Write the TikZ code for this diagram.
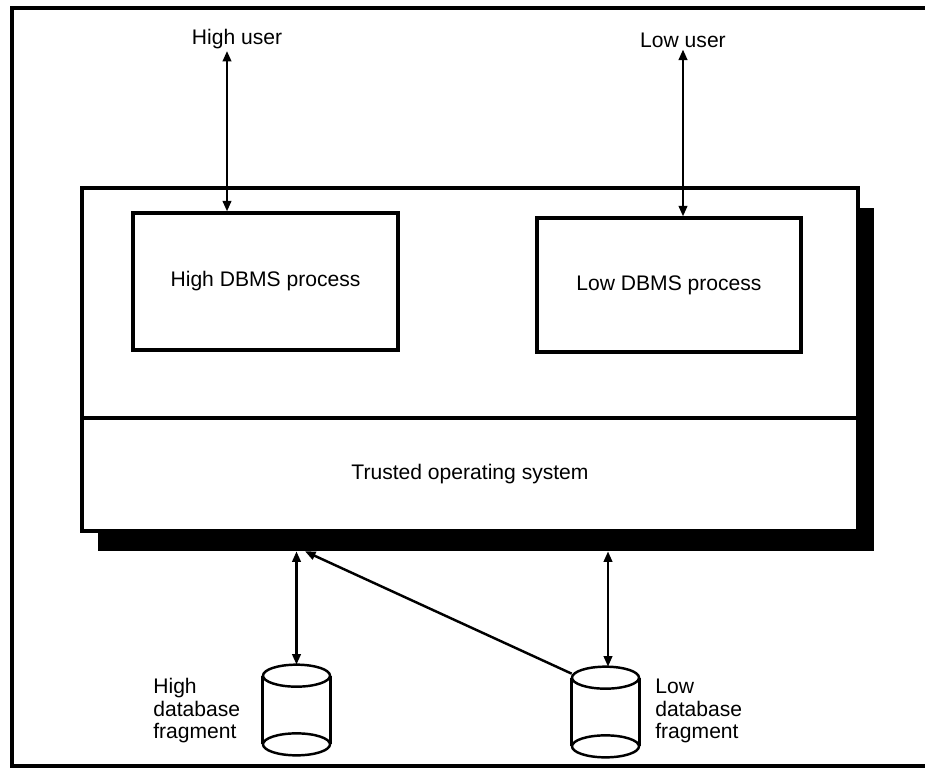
\documentclass[tikz,border=0pt]{standalone}
\usepackage{fontspec}
\setmainfont{Liberation Sans}
\usetikzlibrary{calc,positioning,arrows.meta}

\begin{document}
\begin{tikzpicture}[x=0.02cm, y=-0.02cm,
  every node/.style={font=\fontsize{12}{12.8}\selectfont},
  box/.style={draw, line width=1.8pt, fill=white, inner sep=0pt},
  biarrow/.style={{Triangle[length=6pt,width=4.8pt]}-{Triangle[length=6pt,width=4.8pt]}, line width=1.4pt},
  onearrow/.style={-{Triangle[length=6pt,width=4.8pt]}, line width=1.4pt},
  drum/.style={minimum width=1.34cm, minimum height=1.8cm, inner sep=0pt},
  cyl/.style={line width=1.4pt},
  dblabel/.style={anchor=west, align=left, inner sep=0pt}]
  \useasboundingbox (0,0) rectangle (925,768);
  % outer frame
  \draw[line width=1.9pt] (940,8) -- (12,8) -- (12,766) -- (940,766);

  % trusted system with its shadow
  \node[fill=black, minimum width=15.52cm, minimum height=6.86cm] (shadow) at (486,379.5) {};
  \node[box, minimum width=15.52cm, minimum height=4.6cm] (procs) at (470,303) {};
  \node[box, minimum width=15.52cm, minimum height=2.26cm] (tos) at (470,474.5) {Trusted operating system};

  \node[box, minimum width=5.3cm, minimum height=2.74cm] (hdbms) at (265.5,281.5) {High DBMS process};
  \node[box, minimum width=5.28cm, minimum height=2.68cm] (ldbms) at (669,285) {Low DBMS process};

  % users
  \node[inner sep=1pt] (huser) at (237,39) {High user};
  \node[inner sep=1pt] (luser) at (683,40) {Low user};
  \coordinate (hline) at (227,0);
  \draw[biarrow] (huser.south -| hline) -- (hdbms.north -| hline);
  \draw[biarrow] (luser.south) -- (ldbms.north -| luser.south);

  % database fragments
  \node[drum] (hdb) at (296.5,710) {};
  \node[drum] (ldb) at (605.5,712) {};
  \foreach \db in {hdb,ldb} {
    \draw[cyl] ($(\db.north)+(0,11)$) ellipse [x radius=0.67cm, y radius=0.22cm];
    \draw[cyl] ($(\db.south)+(0,-11)$) ellipse [x radius=0.67cm, y radius=0.22cm];
    \draw[cyl] ($(\db.north west)+(0,11)$) -- ($(\db.south west)+(0,-11)$);
    \draw[cyl] ($(\db.north east)+(0,11)$) -- ($(\db.south east)+(0,-11)$);
  }
  \node[dblabel] (hdbtext) at (153,711) {High\\database\\fragment};
  \node[dblabel] (ldbtext) at (655,711) {Low\\database\\fragment};

  \draw[biarrow] (hdb.north) -- (hdb.north |- shadow.south);
  \draw[biarrow] ([xshift=0.05cm]ldb.north) -- ([xshift=0.05cm]ldb.north |- shadow.south);
  \draw[onearrow] ($(ldb.north west)+(0,7)$) -- ([xshift=0.17cm]hdb.north |- shadow.south);
\end{tikzpicture}
\end{document}
